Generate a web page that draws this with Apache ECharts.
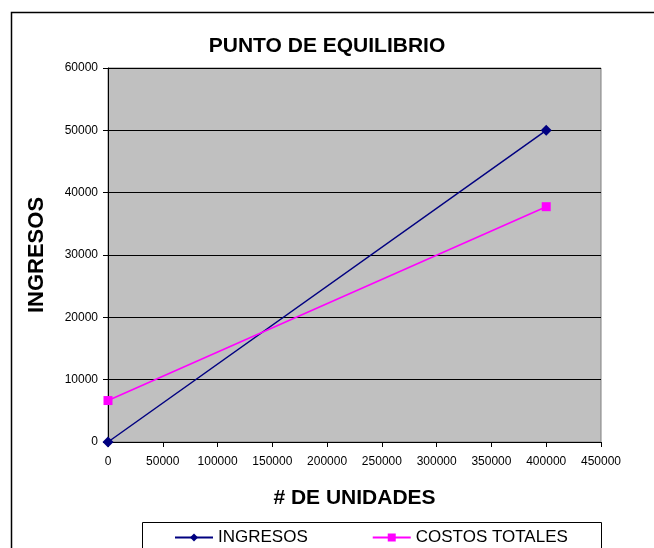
<!DOCTYPE html>
<html>
<head>
<meta charset="utf-8">
<script src="https://cdn.jsdelivr.net/npm/echarts@6/dist/echarts.min.js"></script>
<style>
html, body { margin: 0; padding: 0; background: #fff; }
#main { width: 654px; height: 548px; }
</style>
</head>
<body>
<div id="main"></div>
<script>
var unidades = [0, 400000];
var ingresos = [0, 50000];
var costosTotales = [6650, 37750];

function pairs(xs, ys) {
    return xs.map(function (x, i) { return [x, ys[i]]; });
}

var chart = echarts.init(document.getElementById('main'));

var font = 'Liberation Sans, Arial, sans-serif';

var option = {
    animation: false,
    backgroundColor: '#fff',
    title: {
        text: 'PUNTO DE EQUILIBRIO',
        left: 'center',
        top: 31,
        textStyle: { fontFamily: font, fontSize: 21, fontWeight: 'bold', color: '#000' }
    },
    graphic: [
        {
            type: 'rect',
            shape: { x: 11.5, y: 12.5, width: 700, height: 600 },
            style: { fill: null, stroke: '#000', lineWidth: 1.5 }
        },
        {
            type: 'rect',
            shape: { x: 142.5, y: 522.5, width: 459, height: 40 },
            style: { fill: '#fff', stroke: '#000', lineWidth: 1 }
        }
    ],
    legend: {
        left: 169,
        top: 524,
        itemWidth: 38,
        itemHeight: 10,
        itemGap: 64,
        textStyle: { fontFamily: font, fontSize: 17, color: '#000' },
        data: ['INGRESOS', 'COSTOS TOTALES']
    },
    grid: {
        left: 108,
        right: 53,
        top: 68,
        bottom: 106,
        show: true,
        backgroundColor: '#c0c0c0',
        borderColor: '#808080',
        borderWidth: 1
    },
    xAxis: {
        type: 'value',
        min: 0,
        max: 450000,
        interval: 50000,
        name: '# DE UNIDADES',
        nameLocation: 'middle',
        nameGap: 46,
        nameTextStyle: { fontFamily: font, fontSize: 21, fontWeight: 'bold', color: '#000' },
        axisLine: { show: true, lineStyle: { color: '#000', width: 1 } },
        axisTick: { show: true, length: 5, lineStyle: { color: '#000' } },
        axisLabel: {
            fontFamily: font, fontSize: 12, color: '#000', margin: 14,
            formatter: function (v) { return String(v); }
        },
        splitLine: { show: false }
    },
    yAxis: {
        type: 'value',
        min: 0,
        max: 60000,
        interval: 10000,
        name: 'INGRESOS',
        nameLocation: 'middle',
        nameGap: 60,
        nameTextStyle: { fontFamily: font, fontSize: 22, fontWeight: 'bold', color: '#000' },
        axisLine: { show: true, lineStyle: { color: '#000', width: 1 } },
        axisTick: { show: true, length: 5, lineStyle: { color: '#000' } },
        axisLabel: {
            fontFamily: font, fontSize: 12, color: '#000', margin: 10,
            formatter: function (v) { return String(v); }
        },
        splitLine: { show: true, lineStyle: { color: '#000', width: 1 } }
    },
    series: [
        {
            name: 'INGRESOS',
            type: 'line',
            data: pairs(unidades, ingresos),
            symbol: 'diamond',
            symbolSize: 11,
            color: '#000080',
            lineStyle: { color: '#000080', width: 1.5 },
            itemStyle: { color: '#000080' }
        },
        {
            name: 'COSTOS TOTALES',
            type: 'line',
            data: pairs(unidades, costosTotales),
            symbol: 'rect',
            symbolSize: 9,
            color: '#ff00ff',
            lineStyle: { color: '#ff00ff', width: 1.5 },
            itemStyle: { color: '#ff00ff' }
        }
    ]
};

chart.setOption(option);

window.onresize = chart.resize;
</script>
</body>
</html>
